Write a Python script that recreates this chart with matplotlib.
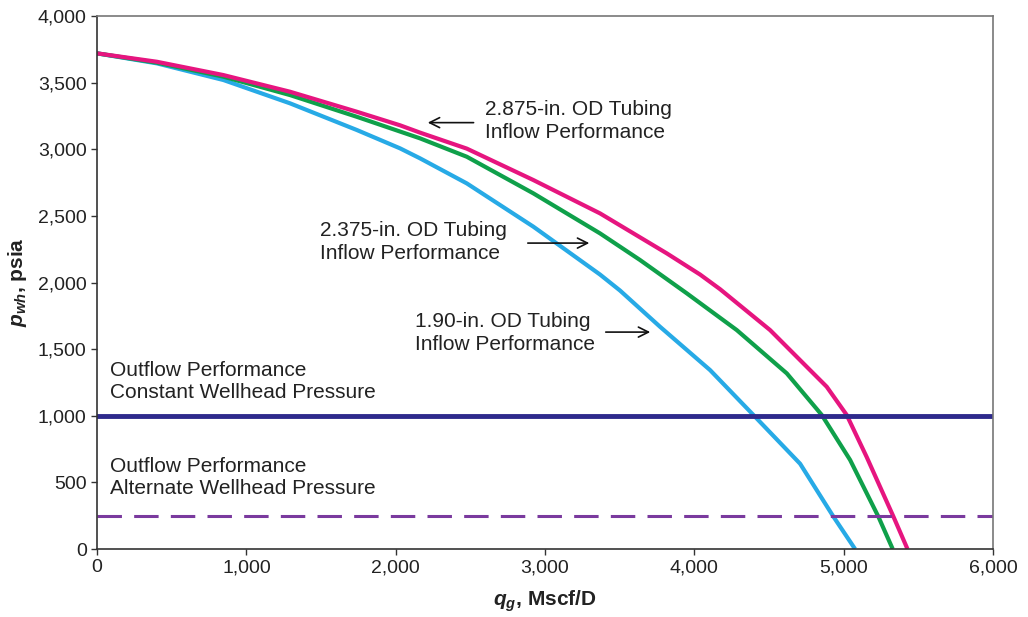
import matplotlib
matplotlib.use("Agg")
import matplotlib.pyplot as plt
from matplotlib.ticker import FuncFormatter

plt.rcParams['font.family'] = ['Liberation Sans', 'DejaVu Sans']
plt.rcParams['mathtext.fontset'] = 'custom'
plt.rcParams['mathtext.rm'] = 'Liberation Sans'
plt.rcParams['mathtext.it'] = 'Liberation Sans:italic'
plt.rcParams['mathtext.bf'] = 'Liberation Sans:bold'
plt.rcParams['mathtext.bfit'] = 'Liberation Sans:bold:italic'

# inflow performance curves (q in Mscf/D, p in psia)
q_2875 = [0, 400, 846, 1292, 1739, 2029, 2163, 2476, 2922, 3368, 3815, 4038, 4172,
          4507, 4752, 4886, 5020, 5154, 5333, 5427]
p_2875 = [3720, 3657, 3557, 3432, 3282, 3180, 3125, 3005, 2769, 2519, 2219, 2060, 1950,
          1643, 1368, 1218, 1006, 690, 243, 0]

q_2375 = [0, 400, 846, 1292, 1739, 2163, 2476, 2922, 3368, 3636, 3949, 4284, 4619,
          4853, 5043, 5232, 5328]
p_2375 = [3720, 3650, 3545, 3407, 3244, 3082, 2944, 2669, 2369, 2169, 1919, 1643, 1318,
          1006, 668, 243, 0]

q_190 = [0, 400, 846, 1292, 1739, 2029, 2163, 2476, 2922, 3368, 3502, 3770, 4105,
         4395, 4708, 4931, 5076]
p_190 = [3720, 3645, 3520, 3345, 3145, 3007, 2932, 2744, 2419, 2060, 1940, 1668, 1343,
         1006, 640, 243, 0]

p_const = 1000
p_alt = 250

C_PINK = '#E6157F'
C_GREEN = '#0FA04A'
C_CYAN = '#27AAE6'
C_NAVY = '#2E2A8C'
C_PURPLE = '#7A3A9E'

fig = plt.figure(figsize=(10.28, 6.17), dpi=100)
ax = fig.add_axes([0.0944, 0.1102, 0.8716, 0.8638])

ax.plot(q_190, p_190, color=C_CYAN, lw=3.0, solid_capstyle='butt', solid_joinstyle='round')
ax.plot(q_2375, p_2375, color=C_GREEN, lw=3.0, solid_capstyle='butt', solid_joinstyle='round')
ax.plot(q_2875, p_2875, color=C_PINK, lw=3.0, solid_capstyle='butt', solid_joinstyle='round')
ax.axhline(p_const, color=C_NAVY, lw=3.5)
ax.axhline(p_alt, color=C_PURPLE, lw=2.2, ls=(0, (8, 4)))

ax.set_xlim(0, 6000)
ax.set_ylim(0, 4000)
ax.set_xticks(range(0, 6001, 1000))
ax.set_yticks(range(0, 4001, 500))
fmt = FuncFormatter(lambda v, p: f'{int(v):,}')
ax.xaxis.set_major_formatter(fmt)
ax.yaxis.set_major_formatter(fmt)
ax.tick_params(labelsize=14, length=4, width=1.0, direction='out', colors='#333333',
               labelcolor='#222222')

for s in ('left', 'bottom'):
    ax.spines[s].set_color('#333333')
    ax.spines[s].set_linewidth(1.2)
for s in ('top', 'right'):
    ax.spines[s].set_color('#777777')
    ax.spines[s].set_linewidth(1.2)

ax.set_xlabel(r'$\mathbfit{q_g}$, Mscf/D', fontsize=15, fontweight='bold', labelpad=9,
              color='#222222')
ax.set_ylabel(r'$\mathbfit{p_{wh}}$, psia', fontsize=15, fontweight='bold', labelpad=6,
              color='#222222')

tkw = dict(fontsize=15, color='#222222', ha='left', va='center', linespacing=1.25)
akw = dict(arrowstyle='->', color='#111111', lw=1.2, mutation_scale=18)

ax.text(2598, 3210, '2.875-in. OD Tubing\nInflow Performance', **tkw)
ax.annotate('', xy=(2196, 3200), xytext=(2540, 3200), arrowprops=akw)

ax.text(1493, 2304, '2.375-in. OD Tubing\nInflow Performance', **tkw)
ax.annotate('', xy=(3315, 2296), xytext=(2866, 2296), arrowprops=akw)

ax.text(2130, 1621, '1.90-in. OD Tubing\nInflow Performance', **tkw)
ax.annotate('', xy=(3723, 1628), xytext=(3388, 1628), arrowprops=akw)

ax.text(87, 1257, 'Outflow Performance\nConstant Wellhead Pressure', **tkw)
ax.text(87, 537, 'Outflow Performance\nAlternate Wellhead Pressure', **tkw)

fig.savefig('out.png', dpi=100, facecolor='white')
